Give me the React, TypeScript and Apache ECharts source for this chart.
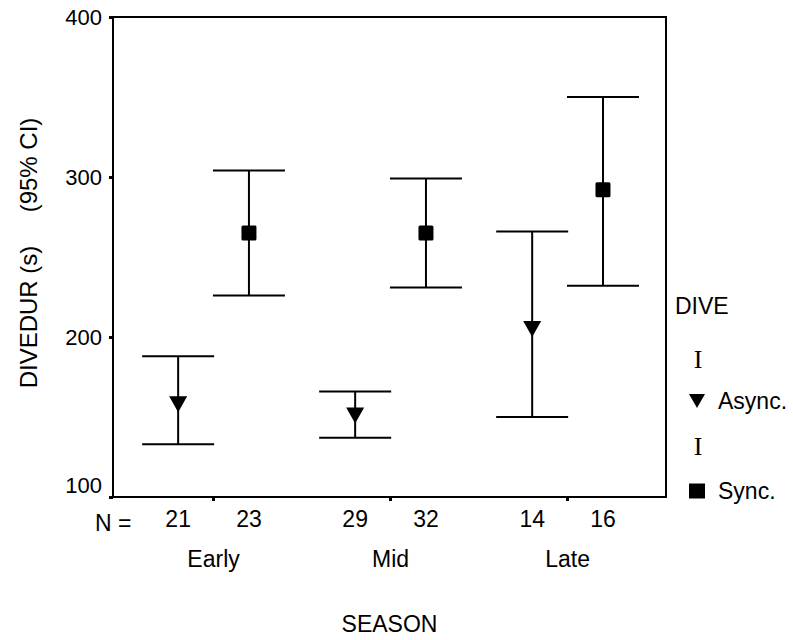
import React, { useEffect, useRef } from "react";
import * as echarts from "echarts";

// ---- data ----
const seasons = ["Early", "Mid", "Late"];
const seasonPos = [1, 2, 3];
const groupNames = ["Async.", "Sync."];
const asyncMean = [158, 151, 205];
const asyncLow = [133, 137, 150];
const asyncHigh = [188, 166, 266];
const syncMean = [265, 265, 292];
const syncLow = [226, 231, 232];
const syncHigh = [304, 299, 350];
const asyncN = [21, 29, 14];
const syncN = [23, 32, 16];
const yTicks = [100, 200, 300, 400];

const OFFSET = 0.2;
const FONT = "'Liberation Sans', Arial, sans-serif";
const FS = 23;

const asyncX = seasonPos.map((p) => p - OFFSET);
const syncX = seasonPos.map((p) => p + OFFSET);
const nPositions = [...asyncX, ...syncX];
const nValues = [...asyncN, ...syncN];

function makeRender(kind: "tri" | "sq") {
  return (params: any, api: any) => {
    const x = api.value(0);
    const lo = api.coord([x, api.value(1)]);
    const hi = api.coord([x, api.value(2)]);
    const m = api.coord([x, api.value(3)]);
    const hw = 36;
    const ls = { stroke: "#000", lineWidth: 2 };
    const children: any[] = [
      { type: "line", shape: { x1: lo[0], y1: lo[1], x2: hi[0], y2: hi[1] }, style: ls },
      { type: "line", shape: { x1: lo[0] - hw, y1: lo[1], x2: lo[0] + hw, y2: lo[1] }, style: ls },
      { type: "line", shape: { x1: hi[0] - hw, y1: hi[1], x2: hi[0] + hw, y2: hi[1] }, style: ls },
    ];
    if (kind === "tri") {
      children.push({
        type: "polygon",
        shape: { points: [[m[0] - 9, m[1] - 8], [m[0] + 9, m[1] - 8], [m[0], m[1] + 8]] },
        style: { fill: "#000" },
      });
    } else {
      children.push({
        type: "rect",
        shape: { x: m[0] - 7.5, y: m[1] - 7.5, width: 15, height: 15, r: 1.5 },
        style: { fill: "#000" },
      });
    }
    return { type: "group", children };
  };
}

export default function App() {
  const ref = useRef<HTMLDivElement>(null);
  useEffect(() => {
    if (!ref.current) return;
    const chart = echarts.init(ref.current, null, { renderer: "svg" });
    const xmin = 0.432;
    const xmax = 3.556;
    chart.setOption({
      animation: false,
      backgroundColor: "#fff",
      textStyle: { fontFamily: FONT, color: "#000" },
      grid: {
        left: 113,
        right: 127,
        top: 17,
        bottom: 138,
        show: true,
        borderColor: "#000",
        borderWidth: 2,
      },
      xAxis: [
        {
          type: "value",
          min: xmin,
          max: xmax,
          position: "bottom",
          name: "SEASON",
          nameLocation: "middle",
          nameGap: 115,
          nameTextStyle: { fontSize: FS, color: "#000", fontFamily: FONT },
          axisLine: { show: true, lineStyle: { color: "#000", width: 2 } },
          axisTick: {
            show: true,
            customValues: seasonPos,
            length: 4,
            lineStyle: { color: "#000", width: 3 },
          },
          axisLabel: {
            customValues: seasonPos,
            margin: 50,
            fontSize: FS,
            color: "#000",
            fontFamily: FONT,
            formatter: (v: number) => {
              const i = seasonPos.findIndex((p) => Math.abs(p - v) < 1e-6);
              return i >= 0 ? seasons[i] : "";
            },
          },
          splitLine: { show: false },
        },
        {
          type: "value",
          min: xmin,
          max: xmax,
          position: "bottom",
          axisLine: { show: false },
          axisTick: { show: false },
          splitLine: { show: false },
          axisLabel: {
            customValues: nPositions,
            margin: 10,
            fontSize: FS,
            color: "#000",
            fontFamily: FONT,
            formatter: (v: number) => {
              const i = nPositions.findIndex((p) => Math.abs(p - v) < 1e-6);
              return i >= 0 ? String(nValues[i]) : "";
            },
          },
        },
      ],
      yAxis: {
        type: "value",
        min: yTicks[0],
        max: yTicks[yTicks.length - 1],
        interval: 100,
        axisLine: { show: true, lineStyle: { color: "#000", width: 2 } },
        axisTick: { show: true, length: 4, lineStyle: { color: "#000", width: 3 } },
        axisLabel: {
          fontSize: 22,
          color: "#000",
          margin: 11,
          fontFamily: FONT,
          formatter: (v: number) => (v === yTicks[0] ? `{lo|${v}}` : `${v}`),
          rich: { lo: { fontSize: 22, fontFamily: FONT, color: "#000", padding: [0, 0, 24, 0] } },
        },
        splitLine: { show: false },
      },
      legend: {
        orient: "vertical",
        left: 689,
        top: 389,
        padding: 0,
        itemWidth: 16,
        itemHeight: 15,
        itemGap: 66,
        selectedMode: false,
        textStyle: {
          fontSize: FS,
          lineHeight: 24,
          color: "#000",
          fontFamily: FONT,
          padding: [0, 0, 0, 8],
        },
        data: [
          { name: groupNames[0], icon: "path://M0,0 L18,0 L9,16 Z" },
          { name: groupNames[1], icon: "rect" },
        ],
      },
      graphic: [
        {
          type: "text",
          x: 28,
          y: 253,
          rotation: Math.PI / 2,
          style: {
            text: "DIVEDUR (s)     (95% CI)",
            fontSize: 24,
            fontFamily: FONT,
            fill: "#000",
            align: "center",
            verticalAlign: "middle",
          },
        },
        {
          type: "text",
          x: 95,
          y: 523,
          style: { text: "N =", fontSize: FS, fontFamily: FONT, fill: "#000", verticalAlign: "middle" },
        },
        {
          type: "text",
          x: 675,
          y: 306,
          style: { text: "DIVE", fontSize: FS, fontFamily: FONT, fill: "#000", verticalAlign: "middle" },
        },
        {
          type: "text",
          x: 698,
          y: 359,
          style: {
            text: "I",
            fontSize: 26,
            fontFamily: "'Liberation Serif', serif",
            fill: "#000",
            align: "center",
            verticalAlign: "middle",
          },
        },
        {
          type: "text",
          x: 698,
          y: 446,
          style: {
            text: "I",
            fontSize: 26,
            fontFamily: "'Liberation Serif', serif",
            fill: "#000",
            align: "center",
            verticalAlign: "middle",
          },
        },
      ],
      series: [
        {
          name: groupNames[0],
          type: "custom",
          xAxisIndex: 0,
          itemStyle: { color: "#000" },
          renderItem: makeRender("tri"),
          encode: { x: 0, y: [1, 2, 3] },
          data: asyncX.map((x, i) => [x, asyncLow[i], asyncHigh[i], asyncMean[i]]),
        },
        {
          name: groupNames[1],
          type: "custom",
          xAxisIndex: 0,
          itemStyle: { color: "#000" },
          renderItem: makeRender("sq"),
          encode: { x: 0, y: [1, 2, 3] },
          data: syncX.map((x, i) => [x, syncLow[i], syncHigh[i], syncMean[i]]),
        },
      ],
    });
    return () => chart.dispose();
  }, []);
  return <div ref={ref} style={{ width: 793, height: 640, position: "absolute", left: 0, top: 0 }} />;
}
